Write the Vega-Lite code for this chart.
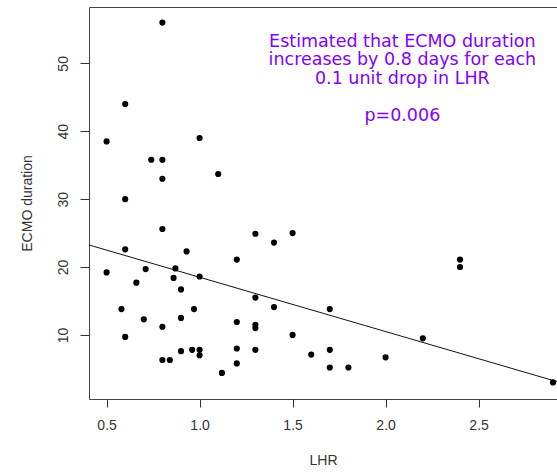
{
  "$schema": "https://vega.github.io/schema/vega-lite/v6.json",
  "width": 468,
  "height": 392,
  "autosize": {"type": "none"},
  "padding": {"left": 89, "top": 7, "right": 0, "bottom": 73},
  "background": "white",
  "config": {
    "view": {"stroke": "#444", "strokeWidth": 1},
    "axis": {
      "grid": false,
      "domain": false,
      "tickColor": "#333",
      "labelFont": "Liberation Sans",
      "titleFont": "Liberation Sans",
      "labelFontSize": 14,
      "titleFontSize": 14,
      "labelColor": "#333",
      "titleColor": "#333",
      "titleFontWeight": "normal"
    }
  },
  "datasets": {
    "points": [
      {"LHR": 0.8, "ECMO": 56},
      {"LHR": 0.6, "ECMO": 44},
      {"LHR": 0.5, "ECMO": 38.5},
      {"LHR": 1.0, "ECMO": 39},
      {"LHR": 0.74, "ECMO": 35.8},
      {"LHR": 0.8, "ECMO": 35.8},
      {"LHR": 0.8, "ECMO": 33.0},
      {"LHR": 1.1, "ECMO": 33.7},
      {"LHR": 0.6, "ECMO": 30},
      {"LHR": 0.8, "ECMO": 25.6},
      {"LHR": 1.3, "ECMO": 24.9},
      {"LHR": 1.5, "ECMO": 25.0},
      {"LHR": 1.4, "ECMO": 23.6},
      {"LHR": 0.6, "ECMO": 22.6},
      {"LHR": 0.93, "ECMO": 22.3},
      {"LHR": 1.2, "ECMO": 21.1},
      {"LHR": 2.4, "ECMO": 21.1},
      {"LHR": 2.4, "ECMO": 20.0},
      {"LHR": 0.5, "ECMO": 19.2},
      {"LHR": 0.71, "ECMO": 19.7},
      {"LHR": 0.87, "ECMO": 19.8},
      {"LHR": 0.66, "ECMO": 17.7},
      {"LHR": 0.86, "ECMO": 18.4},
      {"LHR": 1.0, "ECMO": 18.6},
      {"LHR": 0.9, "ECMO": 16.7},
      {"LHR": 1.3, "ECMO": 15.5},
      {"LHR": 1.4, "ECMO": 14.1},
      {"LHR": 0.58, "ECMO": 13.8},
      {"LHR": 0.97, "ECMO": 13.8},
      {"LHR": 1.7, "ECMO": 13.8},
      {"LHR": 0.7, "ECMO": 12.3},
      {"LHR": 0.9, "ECMO": 12.5},
      {"LHR": 1.2, "ECMO": 11.9},
      {"LHR": 0.8, "ECMO": 11.2},
      {"LHR": 1.3, "ECMO": 11.5},
      {"LHR": 1.3, "ECMO": 11.0},
      {"LHR": 0.6, "ECMO": 9.7},
      {"LHR": 1.5, "ECMO": 10.0},
      {"LHR": 2.2, "ECMO": 9.5},
      {"LHR": 1.2, "ECMO": 8.0},
      {"LHR": 0.9, "ECMO": 7.6},
      {"LHR": 0.96, "ECMO": 7.8},
      {"LHR": 1.0, "ECMO": 7.8},
      {"LHR": 1.0, "ECMO": 7.0},
      {"LHR": 1.3, "ECMO": 7.8},
      {"LHR": 1.7, "ECMO": 7.8},
      {"LHR": 1.6, "ECMO": 7.1},
      {"LHR": 2.0, "ECMO": 6.7},
      {"LHR": 0.8, "ECMO": 6.3},
      {"LHR": 0.84, "ECMO": 6.3},
      {"LHR": 1.2, "ECMO": 5.8},
      {"LHR": 1.7, "ECMO": 5.2},
      {"LHR": 1.8, "ECMO": 5.2},
      {"LHR": 1.12, "ECMO": 4.4},
      {"LHR": 2.9, "ECMO": 3.0}
    ],
    "fit": [
      {"LHR": 0.4054, "ECMO": 23.25},
      {"LHR": 2.9215, "ECMO": 3.12}
    ],
    "notes": [
      {"LHR": 2.09, "ECMO": 52.44, "label": "Estimated that ECMO duration"},
      {"LHR": 2.09, "ECMO": 49.75, "label": "increases by 0.8 days for each"},
      {"LHR": 2.09, "ECMO": 46.95, "label": "0.1 unit drop in LHR"},
      {"LHR": 2.09, "ECMO": 41.55, "label": "p=0.006"}
    ]
  },
  "encoding": {
    "x": {
      "field": "LHR",
      "type": "quantitative",
      "scale": {"domain": [0.4054, 2.9215], "nice": false, "zero": false},
      "axis": {
        "title": "LHR",
        "values": [0.5, 1.0, 1.5, 2.0, 2.5],
        "format": ".1f",
        "tickSize": 8,
        "labelPadding": 11,
        "titlePadding": 21
      }
    },
    "y": {
      "field": "ECMO",
      "type": "quantitative",
      "scale": {"domain": [0.56, 58.3], "nice": false, "zero": false},
      "axis": {
        "title": "ECMO duration",
        "values": [10, 20, 30, 40, 50],
        "labelAngle": -90,
        "tickSize": 9,
        "labelPadding": 10,
        "titlePadding": 22
      }
    }
  },
  "layer": [
    {
      "data": {"name": "fit"},
      "mark": {"type": "line", "color": "#111", "strokeWidth": 1, "clip": true}
    },
    {
      "data": {"name": "points"},
      "mark": {"type": "circle", "color": "black", "opacity": 1, "size": 38}
    },
    {
      "data": {"name": "notes"},
      "mark": {"type": "text", "color": "#8000FF", "font": "DejaVu Sans", "fontSize": 17.5, "align": "center", "baseline": "alphabetic"},
      "encoding": {"text": {"field": "label"}}
    }
  ]
}
